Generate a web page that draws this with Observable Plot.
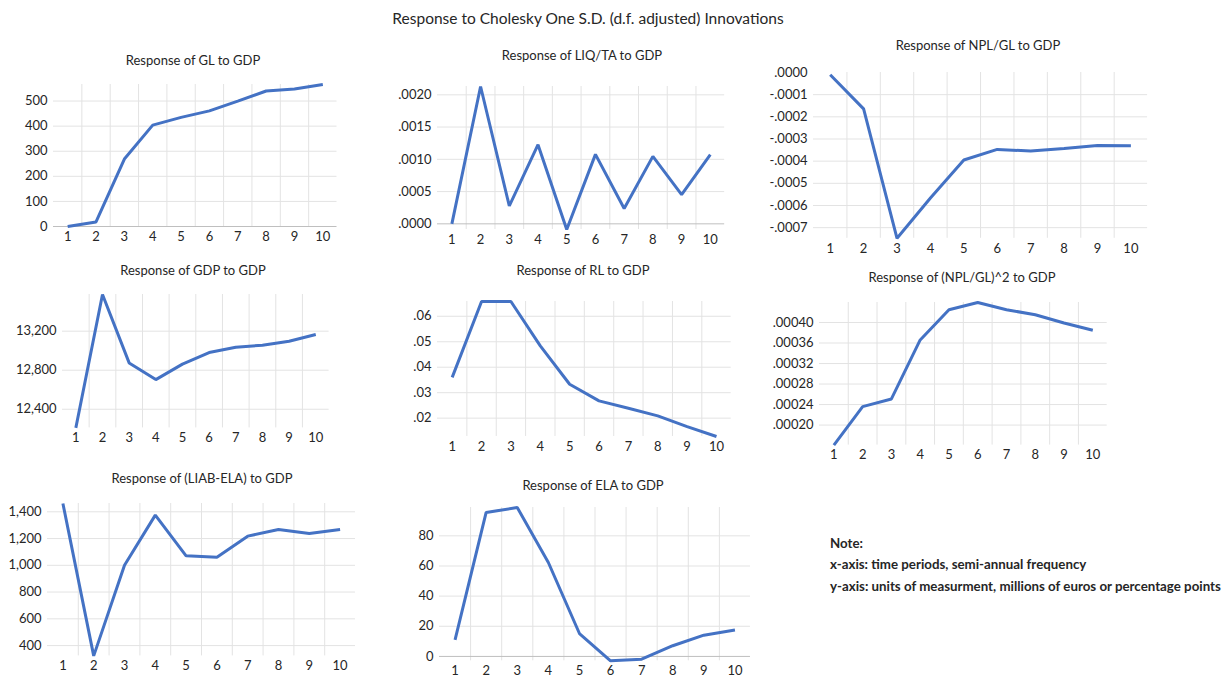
<!DOCTYPE html>
<html>
<head>
<meta charset="utf-8">
<script src="https://cdn.jsdelivr.net/npm/d3@7"></script>
<script src="https://cdn.jsdelivr.net/npm/@observablehq/plot@0.6"></script>
<style>
  html, body { margin: 0; padding: 0; background: #fff; }
  #root { position: relative; width: 1224px; height: 677px; overflow: hidden; font-family: Lato, "Open Sans", sans-serif; color: #262626; }
  .abs { position: absolute; white-space: nowrap; }
  .title { font-size: 15.5px; transform: translate(-50%, -50%); }
  .ptitle { font-size: 13px; transform: translate(-50%, -50%); }
  .note { font-size: 13.3px; font-weight: bold; transform: translate(0, -50%); }
  svg { overflow: visible; }
</style>
</head>
<body>
<div id="root"></div>
<script>
// ---- data ----
const periods = [1, 2, 3, 4, 5, 6, 7, 8, 9, 10];

const gl      = [0, 18, 269, 404, 435, 461, 500, 540, 548, 566];
const liqta   = [0.0000, 0.002129, 0.000278, 0.001227, -0.0000876, 0.001077, 0.000237, 0.001046, 0.000454, 0.001072];
const nplgl   = [-0.00001, -0.000164, -0.000748, -0.000566, -0.000395, -0.000347, -0.000354, -0.000343, -0.000329, -0.000331];
const gdp     = [12209, 13576, 12875, 12704, 12862, 12981, 13036, 13056, 13097, 13166];
const rl      = [0.0360, 0.0658, 0.0658, 0.0484, 0.0333, 0.0268, 0.0239, 0.0209, 0.0167, 0.0128];
const nplgl2  = [0.000161, 0.000236, 0.000251, 0.000366, 0.000425, 0.000439, 0.000425, 0.000415, 0.000399, 0.000385];
const liabela = [1462, 323, 1001, 1375, 1071, 1061, 1218, 1268, 1238, 1268];
const ela     = [11.0, 95.5, 98.8, 62.3, 15.2, -2.9, -1.8, 7.1, 14.1, 17.5];

const glTicks      = [0, 100, 200, 300, 400, 500];
const liqtaTicks   = [0, 0.0005, 0.0010, 0.0015, 0.0020];
const nplglTicks   = [0, -0.0001, -0.0002, -0.0003, -0.0004, -0.0005, -0.0006, -0.0007];
const gdpTicks     = [12400, 12800, 13200];
const rlTicks      = [0.02, 0.03, 0.04, 0.05, 0.06];
const nplgl2Ticks  = [0.00020, 0.00024, 0.00028, 0.00032, 0.00036, 0.00040];
const liabelaTicks = [400, 600, 800, 1000, 1200, 1400];
const elaTicks     = [0, 20, 40, 60, 80];

const mainTitle = "Response to Cholesky One S.D. (d.f. adjusted) Innovations";
const noteLines = ["Note:", "x-axis: time periods, semi-annual frequency", "y-axis: units of measurment, millions of euros or percentage points"];

// ---- formats ----
const dec = n => d => {
  const s = d3.format("." + n + "f")(Math.abs(d)).replace(/^0\./, ".");
  return (d < 0 ? "-" : "") + s;
};
const comma = d3.format(",");

// ---- panels (layout: plot-frame left/right/top/bottom in page px) ----
const panels = [
  {title: "Response of GL to GDP", values: gl, ticks: glTicks, fmt: d3.format("d"), L: 52.5, R: 336, T: 84.3, B: 226.3, tx: 193, ty: 60, zero: true, dmax: null},
  {title: "Response of LIQ/TA to GDP", values: liqta, ticks: liqtaTicks, fmt: dec(4), L: 437.3, R: 724.5, T: 86.3, B: 229.3, tx: 582, ty: 55, zero: true, dmax: null},
  {title: "Response of NPL/GL to GDP", values: nplgl, ticks: nplglTicks, fmt: dec(4), L: 812.6, R: 1146.7, T: 71.5, B: 237.3, tx: 978, ty: 45, zero: false, dmax: 0},
  {title: "Response of GDP to GDP", values: gdp, ticks: gdpTicks, fmt: comma, L: 61.7, R: 328.3, T: 294.3, B: 427.7, tx: 193, ty: 270, zero: false, dmax: null},
  {title: "Response of RL to GDP", values: rl, ticks: rlTicks, fmt: dec(2), L: 437, R: 730.7, T: 300.7, B: 435.7, tx: 583, ty: 270, zero: false, dmax: null},
  {title: "Response of (NPL/GL)^2 to GDP", values: nplgl2, ticks: nplgl2Ticks, fmt: dec(5), L: 819, R: 1106.7, T: 301.7, B: 444.3, tx: 962, ty: 277, zero: false, dmax: null},
  {title: "Response of (LIAB-ELA) to GDP", values: liabela, ticks: liabelaTicks, fmt: comma, L: 47.3, R: 355.3, T: 503.3, B: 655.7, tx: 202, ty: 478, zero: false, dmax: null},
  {title: "Response of ELA to GDP", values: ela, ticks: elaTicks, fmt: d3.format("d"), L: 438.5, R: 749.5, T: 506.7, B: 660, tx: 593, ty: 485, zero: true, dmax: null}
];

const root = document.getElementById("root");

function addText(cls, text, x, y) {
  const d = document.createElement("div");
  d.className = "abs " + cls;
  d.textContent = text;
  d.style.left = x + "px";
  d.style.top = y + "px";
  root.appendChild(d);
  return d;
}

addText("title", mainTitle, 588, 18);

const midX = periods.slice(0, -1).map(p => p + 0.5);
const mL = 70, mR = 10, mT = 10, mB = 30;

for (const p of panels) {
  const rows = periods.map((t, i) => ({t, v: p.values[i]}));
  const ext = d3.extent(p.values);
  const domain = [ext[0], p.dmax != null ? Math.max(p.dmax, ext[1]) : ext[1]];
  const gridTicks = p.ticks.filter(t => t !== 0 && t > domain[0] && t < domain[1]);
  const marks = [
    Plot.ruleY(gridTicks, {stroke: "#e3e3e3", strokeWidth: 1}),
    Plot.ruleX(midX, {stroke: "#e3e3e3", strokeWidth: 1}),
  ];
  if (p.zero) marks.push(Plot.ruleY([0], {stroke: "#bfbfbf", strokeWidth: 1}));
  marks.push(Plot.line(rows, {x: "t", y: "v", stroke: "#4472C4", strokeWidth: 3, strokeLinejoin: "miter", strokeLinecap: "butt"}));

  const chart = Plot.plot({
    width: (p.R - p.L) + mL + mR,
    height: (p.B - p.T) + mT + mB,
    marginLeft: mL, marginRight: mR, marginTop: mT, marginBottom: mB,
    style: {fontFamily: "Lato, 'Open Sans', sans-serif", fontSize: "13px", color: "#262626", background: "transparent", overflow: "visible"},
    x: {type: "linear", domain: [0.5, 10.5], ticks: periods, tickFormat: d3.format("d"), tickSize: 0, tickPadding: 5, label: null},
    y: {type: "linear", domain, ticks: p.ticks, tickFormat: p.fmt, tickSize: 0, tickPadding: 6, label: null},
    marks
  });
  chart.style.position = "absolute";
  chart.style.left = (p.L - mL) + "px";
  chart.style.top = (p.T - mT) + "px";
  root.appendChild(chart);
  addText("ptitle", p.title, p.tx, p.ty);
}

addText("note", noteLines[0], 830, 543);
addText("note", noteLines[1], 830, 564);
addText("note", noteLines[2], 830, 586);
</script>
</body>
</html>
